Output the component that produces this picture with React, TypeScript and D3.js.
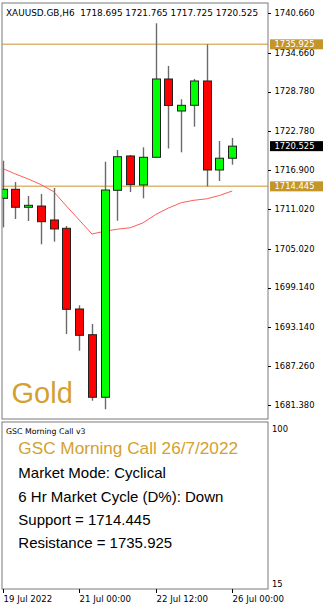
import React from 'react';
import * as d3 from 'd3';

const bars = [
  "19 Jul 12:00", "19 Jul 18:00", "20 Jul 00:00", "20 Jul 06:00", "20 Jul 12:00",
  "20 Jul 18:00", "21 Jul 00:00", "21 Jul 06:00", "21 Jul 12:00", "21 Jul 18:00",
  "22 Jul 00:00", "22 Jul 06:00", "22 Jul 12:00", "22 Jul 18:00", "25 Jul 00:00",
  "25 Jul 06:00", "25 Jul 12:00", "25 Jul 18:00", "26 Jul 00:00"
];
const opens = [1712.64, 1714.00, 1711.28, 1711.47, 1709.36, 1708.10, 1695.90, 1692.01, 1682.55, 1713.85, 1719.04, 1714.65, 1718.84, 1730.68, 1725.84, 1726.70, 1730.38, 1716.92, 1718.695];
const highs = [1718.32, 1715.10, 1712.99, 1713.29, 1714.20, 1708.45, 1696.46, 1693.63, 1718.17, 1719.94, 1719.19, 1720.35, 1739.10, 1732.65, 1727.61, 1730.68, 1735.925, 1721.30, 1721.765];
const lows = [1708.25, 1709.51, 1709.21, 1705.68, 1706.08, 1692.12, 1689.59, 1682.03, 1680.73, 1709.25, 1713.59, 1712.64, 1718.73, 1720.17, 1719.59, 1723.47, 1714.445, 1715.25, 1717.725];
const closes = [1714.00, 1711.28, 1711.58, 1709.10, 1708.00, 1695.85, 1691.92, 1682.55, 1713.89, 1718.93, 1714.70, 1718.84, 1730.68, 1726.67, 1726.70, 1730.38, 1716.92, 1718.70, 1720.525];
const maValues = [1717.14, 1716.31, 1715.56, 1714.71, 1713.64, 1711.46, 1709.36, 1707.24, 1707.65, 1707.97, 1708.18, 1708.92, 1710.19, 1711.17, 1711.97, 1712.34, 1712.56, 1713.06, 1713.74];

const priceTicks = [1740.66, 1734.66, 1728.78, 1722.78, 1716.9, 1711.02, 1705.02, 1699.14, 1693.14, 1687.26, 1681.38];
const timeTickBars = ["19 Jul 12:00", "21 Jul 00:00", "22 Jul 12:00", "26 Jul 00:00"];
const timeTickLabels = ["19 Jul 2022", "21 Jul 00:00", "22 Jul 12:00", "26 Jul 00:00"];
const subTicks = [100, 15];

const support = 1714.445;
const resistance = 1735.925;
const symbol = "XAUUSD.GB,H6";
const infoLines = ["Market Mode: Cyclical", "6 Hr Market Cycle (D%): Down", "Support = 1714.445", "Resistance = 1735.925"];

const W = 323, H = 607;
const plotL = 2, plotR = 268, plotT = 3, plotB = 419;
const subT = 422, subB = 589;
const small = "'DejaVu Sans', sans-serif";
const arial = "'Liberation Sans', Arial, sans-serif";
const gold = "#d4a12e";
const lineGold = "#dcb874";
const boxGold = "#c4962a";

export default function App() {
  const x = d3.scalePoint<string>().domain(bars).range([2.7, 232.2]);
  const y = d3.scaleLinear().domain([1681.38, 1740.66]).range([405, 13]);
  const subY = d3.scaleLinear().domain([15, 100]).range([584, 429]);
  const fmt = d3.format(".3f");
  const last = bars.length - 1;
  const maLine = d3.line<number>().x((_, i) => x(bars[i])!).y(d => y(d));
  const bodyW = 8;

  const header = `${symbol}\u00a0\u00a0${fmt(opens[last])} ${fmt(highs[last])} ${fmt(lows[last])} ${fmt(closes[last])}`;

  return (
    <svg width={W} height={H} style={{ position: 'absolute', left: 0, top: 0, background: '#fff' }}>
      <defs>
        <clipPath id="plot">
          <rect x={plotL} y={plotT} width={plotR - plotL} height={plotB - plotT} />
        </clipPath>
      </defs>
      <rect x={0} y={0} width={W} height={H} fill="#fff" />
      <g clipPath="url(#plot)">
        <line x1={plotL} x2={plotR} y1={y(resistance)} y2={y(resistance)} stroke={lineGold} strokeWidth={1.5} />
        <line x1={plotL} x2={plotR} y1={y(support)} y2={y(support)} stroke={lineGold} strokeWidth={1.5} />
        <path d={maLine(maValues) || ''} fill="none" stroke="#ff5c5c" strokeWidth={1} />
        {bars.map((b, i) => {
          const cx = Math.round(x(b)!) + 0.5;
          const up = closes[i] >= opens[i];
          const top = y(Math.max(opens[i], closes[i]));
          const bot = y(Math.min(opens[i], closes[i]));
          return (
            <g key={b}>
              <line x1={cx} x2={cx} y1={y(highs[i])} y2={y(lows[i])} stroke="#6a6a6a" strokeWidth={1.4} />
              <rect x={cx - bodyW / 2} y={top} width={bodyW} height={Math.max(1, bot - top)}
                fill={up ? '#00ff00' : '#ff0000'} stroke="#222" strokeWidth={1} />
            </g>
          );
        })}
        <text x={11.5} y={402.5} fontFamily={arial} fontSize={29} fill={gold}>Gold</text>
      </g>
      <text x={6} y={15.5} fontFamily={small} fontSize={8.9} fill="#000" style={{ whiteSpace: 'pre' }}>{header}</text>
      <rect x={plotL} y={plotT} width={plotR - plotL} height={plotB - plotT} fill="none" stroke="#7a7a7a" strokeWidth={1} />

      {/* price axis */}
      {priceTicks.map(t => (
        <g key={t}>
          <line x1={plotR} x2={plotR + 3} y1={Math.round(y(t)) + 0.5} y2={Math.round(y(t)) + 0.5} stroke="#000" />
          <text x={274.5} y={y(t)} dy="0.35em" fontFamily={small} fontSize={8.4} fill="#000">{fmt(t)}</text>
        </g>
      ))}
      {[{ v: resistance, bg: boxGold }, { v: support, bg: boxGold }, { v: closes[last], bg: '#000' }].map(d => (
        <g key={d.v}>
          <rect x={270} y={y(d.v) - 5} width={53} height={10} fill={d.bg} />
          <text x={274.5} y={y(d.v)} dy="0.36em" fontFamily={small} fontSize={8.4} fill="#fff">{fmt(d.v)}</text>
        </g>
      ))}

      {/* sub window */}
      <rect x={plotL} y={subT} width={plotR - plotL} height={subB - subT} fill="none" stroke="#7a7a7a" strokeWidth={1} />
      <text x={6} y={433.5} fontFamily={small} fontSize={7.8} fill="#000">GSC Morning Call v3</text>
      <text x={18.3} y={454.3} fontFamily={arial} fontSize={17.2} fill={gold}>GSC Morning Call 26/7/2022</text>
      {infoLines.map((s, i) => (
        <text key={s} x={18.3} y={478.3 + i * 23.35} fontFamily={arial} fontSize={15} fill="#000">{s}</text>
      ))}
      {subTicks.map(t => (
        <text key={t} x={272} y={subY(t)} dy="0.35em" fontFamily={small} fontSize={8.4} fill="#000">{t}</text>
      ))}

      {/* time axis */}
      {timeTickBars.map((b, i) => {
        const tx = Math.round(x(b)!) + 0.5;
        return (
          <g key={b}>
            <line x1={tx} x2={tx} y1={subB} y2={subB + 4} stroke="#000" />
            <text x={tx} y={601.5} fontFamily={small} fontSize={8.6} fill="#000">{timeTickLabels[i]}</text>
          </g>
        );
      })}
    </svg>
  );
}
